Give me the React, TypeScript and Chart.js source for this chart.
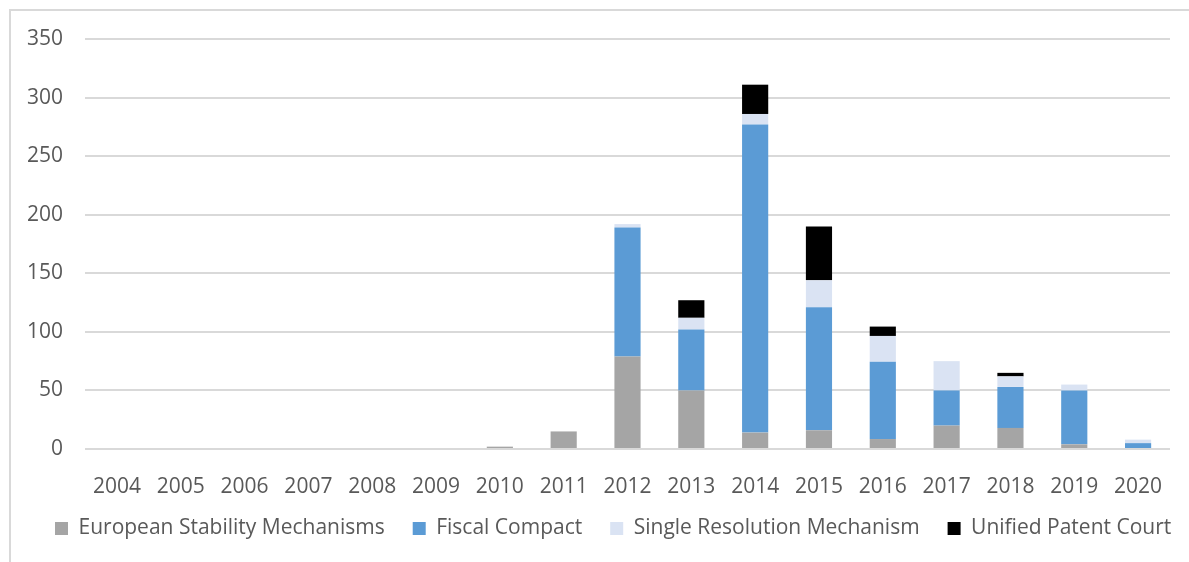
import React, { useEffect, useRef } from "react";
import { Chart, registerables } from "chart.js";

Chart.register(...registerables);

const years = ["2004","2005","2006","2007","2008","2009","2010","2011","2012","2013","2014","2015","2016","2017","2018","2019","2020"];
const esm = [0,0,0,0,0,0,2,15,79,50,14,16,8.5,20,18,4,0];
const fiscalCompact = [0,0,0,0,0,0,0,0,110,52,263,105,66,30,35,46,5];
const srm = [0,0,0,0,0,0,0,0,3,10,9,23,22,25,9,5,3];
const upc = [0,0,0,0,0,0,0,0,0,15,25,46,8,0,3,0,0];
const yTicks = [0,50,100,150,200,250,300,350];

const FONT = "'Open Sans', 'Noto Sans', sans-serif";
const TEXT = "#595959";
const W = 1230;

const legendShift = {
  id: "legendShift",
  afterLayout(chart: any) {
    const lg = chart.legend;
    if (lg) {
      lg.top -= 16;
      lg.bottom -= 16;
    }
  },
};

export default function App() {
  const ref = useRef<HTMLCanvasElement | null>(null);
  useEffect(() => {
    if (!ref.current) return;
    const chart = new Chart(ref.current, {
      type: "bar",
      data: {
        labels: years,
        datasets: [
          { label: "European Stability Mechanisms", data: esm, backgroundColor: "#A5A5A5" },
          { label: "Fiscal Compact", data: fiscalCompact, backgroundColor: "#5B9BD5" },
          { label: "Single Resolution Mechanism", data: srm, backgroundColor: "#DAE3F3" },
          { label: "Unified Patent Court", data: upc, backgroundColor: "#000000" },
        ],
      },
      plugins: [legendShift],
      options: {
        animation: false,
        responsive: false,
        maintainAspectRatio: false,
        datasets: { bar: { categoryPercentage: 0.41, barPercentage: 1 } },
        layout: { padding: { left: 27, top: 39, right: 0, bottom: 0 } },
        plugins: {
          tooltip: { enabled: false },
          legend: {
            position: "bottom",
            align: "start",
            maxHeight: 56,
            labels: {
              boxWidth: 13,
              boxHeight: 13,
              color: TEXT,
              font: { family: FONT, size: 21 },
              padding: 28,
            },
          },
        },
        scales: {
          x: {
            stacked: true,
            grid: { display: false },
            border: { display: false },
            ticks: { color: TEXT, font: { family: FONT, size: 21 }, padding: 17, maxRotation: 0 },
            afterFit: (s: any) => { s.height = 57; },
          },
          y: {
            stacked: true,
            min: 0,
            max: 350,
            afterBuildTicks: (s: any) => { s.ticks = yTicks.map((v) => ({ value: v })); },
            grid: { color: "#D9D9D9", lineWidth: 2, drawTicks: false },
            border: { display: false },
            ticks: { color: TEXT, font: { family: FONT, size: 21 }, padding: 22 },
            afterFit: (s: any) => { s.width = 58; },
          },
          spacer: {
            type: "linear",
            position: "right",
            display: true,
            grid: { display: false },
            border: { display: false },
            ticks: { display: false },
            afterFit: (s: any) => { s.width = W - 1170; },
          },
        },
      },
    });
    return () => chart.destroy();
  }, []);
  return (
    <div style={{ position: "absolute", left: 0, top: 0, width: 1189, height: 562, background: "#fff", overflow: "hidden" }}>
      <div style={{ position: "absolute", left: 9, top: 9, width: 1200, height: 600, border: "2px solid #D9D9D9", boxSizing: "border-box" }} />
      <canvas ref={ref} width={W} height={562} style={{ position: "absolute", left: 0, top: 0 }} />
    </div>
  );
}
